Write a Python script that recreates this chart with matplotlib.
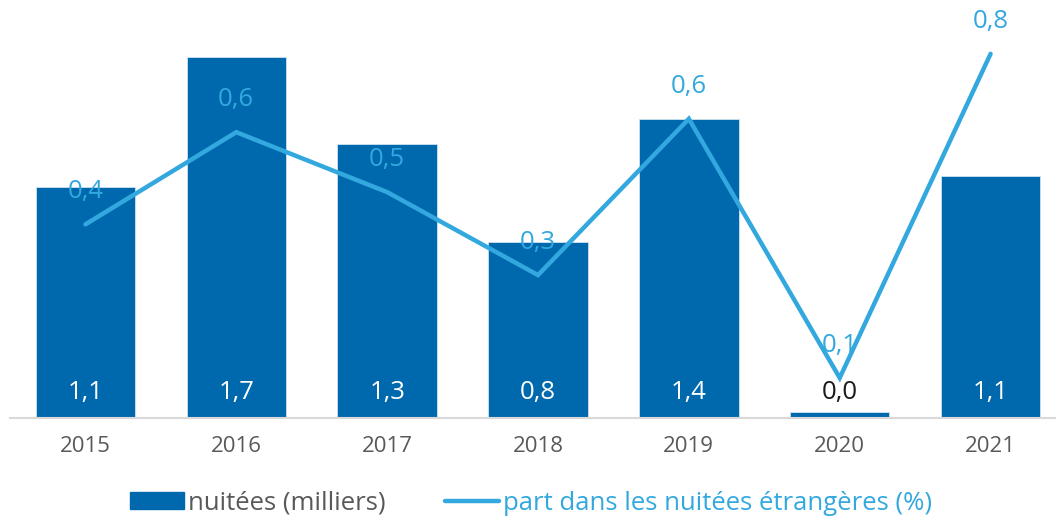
import matplotlib
matplotlib.use("Agg")
import matplotlib.pyplot as plt
from matplotlib.patches import Patch
from matplotlib.lines import Line2D

plt.rcParams["font.family"] = ["Open Sans", "DejaVu Sans"]

annees = ["2015", "2016", "2017", "2018", "2019", "2020", "2021"]
nuitees = [1.09, 1.70, 1.29, 0.83, 1.41, 0.03, 1.14]       # milliers
part_etr = [0.42, 0.62, 0.49, 0.31, 0.649, 0.087, 0.79]    # %

bleu = "#0069AE"
bleu_clair = "#33A8DF"
gris = "#595959"

W, H = 1056, 522
fig = plt.figure(figsize=(W / 100, H / 100), dpi=100)
ax = fig.add_axes([10 / W, 104 / H, 1056 / W, 418 / H])

x = range(len(annees))
ax.bar(x, nuitees, width=0.66, color=bleu, edgecolor="#cfe3f2", linewidth=0.6, zorder=2)
ax.set_xlim(-0.5, 6.5)
ax.set_ylim(0, 1.97)

for s in ["top", "right", "left"]:
    ax.spines[s].set_visible(False)
ax.spines["bottom"].set_color("#D9D9D9")
ax.spines["bottom"].set_linewidth(1.5)
ax.set_yticks([])
ax.set_xticks(list(x))
ax.set_xticklabels(annees, fontsize=16, color=gris)
ax.tick_params(axis="x", length=0, pad=13)

for i, v in enumerate(nuitees):
    txt = f"{v:.1f}".replace(".", ",")
    col = "white" if v > 0.2 else "#1a1a1a"
    ax.annotate(txt, (i, 0), xytext=(0, 18.5), textcoords="offset points",
                ha="center", va="center", fontsize=18.5, color=col, zorder=3)

ax2 = ax.twinx()
ax2.set_ylim(0, 418 / 461)
ax2.plot(list(x), part_etr, color=bleu_clair, lw=3.2, solid_capstyle="round",
         solid_joinstyle="miter", zorder=4)
for s in ["top", "right", "left", "bottom"]:
    ax2.spines[s].set_visible(False)
ax2.set_yticks([])
for i, v in enumerate(part_etr):
    txt = f"{v:.1f}".replace(".", ",")
    ax2.annotate(txt, (i, v), xytext=(0, 23.5), textcoords="offset points",
                 ha="center", va="center", fontsize=18.5, color=bleu_clair, zorder=5)

handles = [Patch(facecolor=bleu, edgecolor=bleu),
           Line2D([0], [0], color=bleu_clair, lw=3.2, solid_capstyle="round")]
labels = ["nuitées (milliers)", "part dans les nuitées étrangères (%)"]
leg = fig.legend(handles, labels, loc="center", bbox_to_anchor=(531 / W, 1 - 503 / H),
                 ncol=2, frameon=False, fontsize=18.5, handlelength=2.1,
                 handleheight=0.6, handletextpad=0.15, columnspacing=2.3,
                 labelcolor=[gris, bleu_clair])

fig.savefig("out.png", dpi=100)
